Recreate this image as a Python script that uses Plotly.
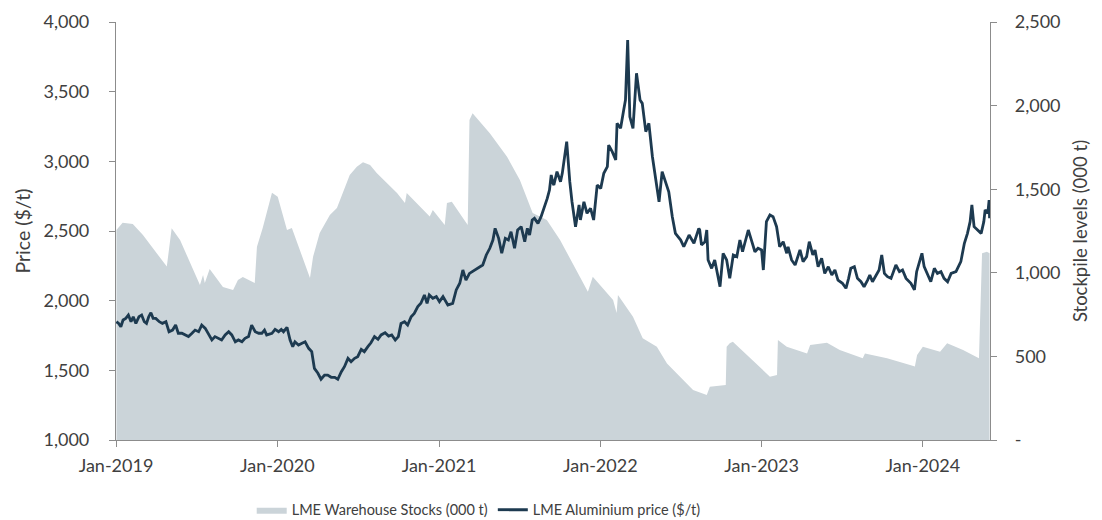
import plotly.graph_objects as go

price_dates = [
    # 2019
    "2019-01-02","2019-01-07","2019-01-12","2019-01-17","2019-01-23","2019-01-29","2019-02-04","2019-02-09",
    "2019-02-15","2019-02-22","2019-02-28","2019-03-06","2019-03-11","2019-03-16","2019-03-21","2019-03-26",
    "2019-04-01","2019-04-09","2019-04-16","2019-04-24","2019-05-01","2019-05-09","2019-05-16","2019-05-22",
    "2019-05-30","2019-06-06","2019-06-14","2019-06-22","2019-06-29","2019-07-07","2019-07-14","2019-07-22",
    "2019-07-29","2019-08-06","2019-08-13","2019-08-21","2019-08-28","2019-09-05","2019-09-13","2019-09-20",
    "2019-09-28","2019-10-05","2019-10-13","2019-10-20","2019-10-28","2019-11-04","2019-11-12","2019-11-20",
    "2019-11-27","2019-12-03","2019-12-08","2019-12-20","2019-12-27",
    # 2020
    "2020-01-04","2020-01-10","2020-01-15","2020-01-23","2020-01-30","2020-02-05","2020-02-10","2020-02-18",
    "2020-02-26","2020-03-04","2020-03-12","2020-03-19","2020-03-25","2020-04-02","2020-04-09","2020-04-17",
    "2020-04-24","2020-05-02","2020-05-10","2020-05-17","2020-05-25","2020-06-01","2020-06-09","2020-06-16",
    "2020-06-24","2020-07-01","2020-07-09","2020-07-16","2020-07-24","2020-07-31","2020-08-08","2020-08-16",
    "2020-08-23","2020-09-01","2020-09-09","2020-09-16","2020-09-24","2020-10-01","2020-10-07","2020-10-15",
    "2020-10-22","2020-10-30","2020-11-06","2020-11-14","2020-11-21","2020-11-29","2020-12-05","2020-12-10",
    "2020-12-18","2020-12-26",
    # 2021
    "2021-01-02","2021-01-10","2021-01-21","2021-02-01","2021-02-09","2021-02-17","2021-02-24","2021-03-03",
    "2021-03-11","2021-03-22","2021-04-03","2021-04-10","2021-04-18","2021-04-26","2021-05-03","2021-05-08",
    "2021-05-16","2021-05-23","2021-05-31","2021-06-07","2021-06-13","2021-06-21","2021-06-28","2021-07-06",
    "2021-07-14","2021-07-20","2021-07-25","2021-07-31","2021-08-05","2021-08-13","2021-08-20","2021-08-28",
    "2021-09-03","2021-09-08","2021-09-12","2021-09-16","2021-09-18","2021-09-25","2021-10-03","2021-10-07",
    "2021-10-17","2021-10-24","2021-10-29","2021-11-06","2021-11-14","2021-11-17","2021-11-25","2021-12-02",
    "2021-12-10","2021-12-17","2021-12-25",
    # 2022
    "2022-01-02","2022-01-09","2022-01-17","2022-01-20","2022-01-28","2022-02-05","2022-02-08","2022-02-16",
    "2022-02-23","2022-02-27","2022-03-04","2022-03-09","2022-03-16","2022-03-24","2022-04-01","2022-04-06",
    "2022-04-14","2022-04-21","2022-04-29","2022-05-06","2022-05-14","2022-05-21","2022-05-29","2022-06-05",
    "2022-06-13","2022-06-20","2022-07-02","2022-07-09","2022-07-21","2022-08-01","2022-08-12","2022-08-14",
    "2022-08-18","2022-08-26","2022-08-30","2022-09-02","2022-09-10","2022-09-17","2022-09-29","2022-10-06",
    "2022-10-14","2022-10-21","2022-10-29","2022-11-06","2022-11-13","2022-11-19","2022-11-24","2022-12-02",
    "2022-12-09","2022-12-17","2022-12-24",
    # 2023
    "2023-01-01","2023-01-05","2023-01-12","2023-01-20","2023-01-27","2023-02-04","2023-02-11","2023-02-19",
    "2023-02-27","2023-03-02","2023-03-10","2023-03-18","2023-03-29","2023-04-05","2023-04-13","2023-04-19",
    "2023-04-27","2023-05-02","2023-05-09","2023-05-17","2023-05-24","2023-06-01","2023-06-09","2023-06-16",
    "2023-06-23","2023-07-03","2023-07-11","2023-07-17","2023-07-22","2023-07-30","2023-08-06","2023-08-14",
    "2023-08-21","2023-08-29","2023-09-03","2023-09-09","2023-09-17","2023-09-24","2023-09-30","2023-10-06",
    "2023-10-13","2023-10-21","2023-11-01","2023-11-09","2023-11-16","2023-11-24","2023-12-05","2023-12-13",
    "2023-12-18","2023-12-24","2023-12-30",
    # 2024
    "2024-01-04","2024-01-12","2024-01-19","2024-01-27","2024-02-03","2024-02-11","2024-02-18","2024-02-26",
    "2024-03-05","2024-03-16","2024-03-27","2024-04-04","2024-04-11","2024-04-17","2024-04-21","2024-04-26",
    "2024-05-04","2024-05-12","2024-05-18","2024-05-21","2024-05-27","2024-05-30","2024-05-31",
]
price_values = [
    # 2019
    1849,1837,1813,1861,1873,1897,1849,1885,
    1837,1885,1897,1849,1837,1885,1914,1873,
    1873,1849,1837,1849,1777,1789,1825,1766,
    1766,1754,1742,1766,1789,1777,1825,1801,
    1766,1718,1742,1730,1718,1754,1777,1754,
    1705,1718,1705,1730,1742,1825,1777,1766,
    1766,1789,1754,1766,1794,
    # 2020
    1777,1794,1777,1809,1718,1670,1705,1682,
    1694,1705,1658,1634,1514,1479,1436,1466,
    1466,1450,1450,1436,1490,1526,1586,1562,
    1586,1598,1651,1634,1670,1698,1742,1723,
    1754,1770,1746,1754,1718,1742,1837,1849,
    1825,1885,1909,1957,1981,2041,1981,2041,
    2017,2029,
    # 2021
    1993,2029,1969,1981,2077,2125,2220,2148,
    2196,2220,2244,2256,2328,2376,2435,2519,
    2447,2340,2447,2435,2495,2376,2507,2531,
    2423,2519,2471,2579,2591,2555,2603,2675,
    2734,2794,2902,2842,2830,2926,2854,2914,
    3141,2854,2710,2531,2687,2579,2710,2627,
    2663,2579,2830,
    # 2022
    2806,2914,2962,3117,3069,3010,3273,3237,
    3368,3440,3871,3320,3237,3632,3440,3416,
    3213,3273,3033,2878,2710,2926,2842,2782,
    2603,2483,2435,2387,2471,2412,2519,2507,
    2400,2423,2507,2292,2232,2292,2100,2340,
    2292,2160,2328,2316,2435,2351,2412,2507,
    2435,2351,2376,
    # 2023
    2364,2220,2567,2615,2603,2531,2387,2423,
    2340,2387,2292,2256,2364,2280,2316,2423,
    2328,2364,2244,2304,2196,2244,2184,2220,
    2148,2125,2089,2160,2232,2244,2160,2136,
    2100,2148,2184,2136,2184,2220,2328,2196,
    2172,2160,2256,2208,2220,2160,2125,2077,
    2208,2280,2340,
    # 2024
    2244,2184,2136,2232,2196,2208,2160,2136,
    2196,2208,2280,2412,2483,2567,2687,2531,
    2507,2483,2567,2651,2627,2722,2591,
]

stock_dates = [
    "2019-01-02","2019-01-16","2019-02-08","2019-03-03","2019-04-26","2019-05-07","2019-05-26","2019-07-10",
    "2019-07-17","2019-07-21","2019-08-01","2019-08-31","2019-09-23","2019-10-04","2019-10-15","2019-11-11",
    "2019-11-16","2019-11-29","2019-12-20","2020-01-02","2020-01-23","2020-02-03","2020-03-15","2020-03-22",
    "2020-04-06","2020-04-29","2020-05-15","2020-06-13","2020-06-29","2020-07-13","2020-07-29","2020-08-13",
    "2020-09-28","2020-10-16","2020-10-20","2020-12-11","2020-12-18","2021-01-14","2021-01-19","2021-01-30",
    "2021-03-07","2021-03-11","2021-03-18","2021-04-26","2021-06-04","2021-07-03","2021-08-01","2021-09-02",
    "2021-10-02","2021-10-31","2021-12-04","2021-12-15","2022-01-30","2022-02-07","2022-02-10","2022-03-16",
    "2022-04-07","2022-05-09","2022-06-01","2022-07-30","2022-08-30","2022-09-06","2022-10-05","2022-10-12",
    "2022-10-14","2022-10-21","2022-10-28","2022-12-06","2023-01-20","2023-02-05","2023-02-07","2023-02-27",
    "2023-04-14","2023-04-21","2023-05-29","2023-06-27","2023-08-18","2023-08-23","2023-10-12","2023-12-03",
    "2023-12-14","2023-12-19","2024-01-01","2024-02-09","2024-02-25","2024-04-01","2024-05-07","2024-05-14",
    "2024-05-25","2024-05-31",
]
stock_values = [
    1256,1300,1292,1226,1037,1266,1196,927,
    987,939,1023,915,897,957,975,939,
    1156,1268,1479,1455,1256,1268,969,1096,
    1238,1346,1388,1585,1635,1661,1645,1597,
    1477,1417,1477,1336,1376,1286,1417,1425,
    1286,1914,1954,1835,1694,1555,1357,1316,
    1196,1058,887,977,837,759,867,737,
    608,558,458,299,269,319,329,329,
    558,578,588,489,379,389,598,558,
    518,568,582,538,489,518,489,449,
    439,508,558,528,578,538,489,1117,
    1126,1117,
]

price_ticks = [1000, 1500, 2000, 2500, 3000, 3500, 4000]
stock_ticks = [0, 500, 1000, 1500, 2000, 2500]
stock_tick_text = ["-", "500", "1,000", "1,500", "2,000", "2,500"]
x_ticks = ["2019-01-01", "2020-01-01", "2021-01-01", "2022-01-01", "2023-01-01", "2024-01-01"]
x_tick_text = ["Jan-2019", "Jan-2020", "Jan-2021", "Jan-2022", "Jan-2023", "Jan-2024"]

FONT = "Lato, 'Open Sans', sans-serif"
TXT = "#404040"
AX = "#8c8c8c"

fig = go.Figure()
fig.add_trace(go.Scatter(
    x=stock_dates, y=stock_values, name="LME Warehouse Stocks (000 t)",
    mode="lines", line=dict(width=0, color="#cbd4d9"), fill="tozeroy",
    fillcolor="#cbd4d9", yaxis="y",
))
fig.add_trace(go.Scatter(
    x=price_dates, y=price_values, name="LME Aluminium price ($/t)",
    mode="lines", line=dict(width=2.8, color="#1d3a50"), yaxis="y2",
))

# page body has an 8px default margin, so the figure is drawn 8px smaller
fig.update_layout(
    width=1094, height=512,
    margin=dict(l=108, r=112, t=14, b=80, autoexpand=False),
    paper_bgcolor="white", plot_bgcolor="white",
    font=dict(family=FONT, size=18, color=TXT),
    showlegend=True,
    legend=dict(orientation="h", x=0.415, xanchor="center", y=-0.167, yanchor="middle",
                font=dict(size=14.5, color=TXT), traceorder="normal", itemwidth=30,
                bgcolor="rgba(0,0,0,0)"),
    xaxis=dict(
        type="date", range=["2019-01-01", "2024-06-01"],
        tickvals=x_ticks, ticktext=x_tick_text,
        showline=True, linecolor=AX, linewidth=1.2,
        ticks="outside", ticklen=6, tickcolor=AX, ticklabelstandoff=3,
        showgrid=False, zeroline=False,
    ),
    yaxis=dict(
        side="right", range=[0, 2500], tickvals=stock_ticks, ticktext=stock_tick_text,
        showline=True, linecolor=AX, linewidth=1.2,
        ticks="outside", ticklen=6, tickcolor=AX, ticklabelstandoff=14,
        showgrid=False, zeroline=False,
        title=dict(text="Stockpile levels (000 t)", standoff=14, font=dict(size=18.5)),
    ),
    yaxis2=dict(
        side="left", overlaying="y", range=[1000, 4000], tickvals=price_ticks,
        tickformat=",", showline=True, linecolor=AX, linewidth=1.2,
        ticks="outside", ticklen=6, tickcolor=AX, ticklabelstandoff=16,
        showgrid=False, zeroline=False,
        title=dict(text="Price ($/t)", standoff=7, font=dict(size=19.5)),
    ),
)

fig.write_html("out.html")
